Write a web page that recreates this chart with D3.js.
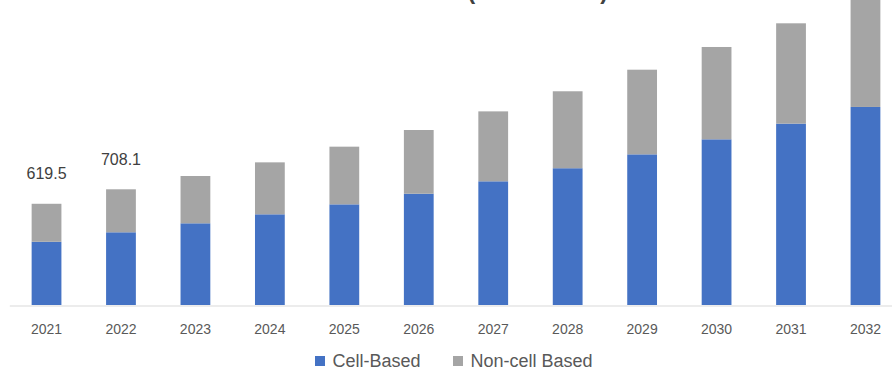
<!DOCTYPE html>
<html>
<head>
<meta charset="utf-8">
<script src="https://cdn.jsdelivr.net/npm/d3@7"></script>
<style>
  html, body { margin: 0; padding: 0; background: #fff; }
  svg { display: block; font-family: "Liberation Sans", Arial, sans-serif; }
</style>
</head>
<body>
<svg id="chart" width="892" height="368"></svg>
<script>
// Market size by year, split into cell-based and non-cell based segments
const years = ["2021", "2022", "2023", "2024", "2025", "2026", "2027", "2028", "2029", "2030", "2031", "2032"];
const cellBased = [387, 445, 500, 555, 616, 681, 757, 837, 922, 1014, 1110, 1212];
const nonCellBased = [232.5, 263.1, 289.5, 318, 353, 390, 428, 471, 518, 565, 614, 671];
const seriesNames = ["Cell-Based", "Non-cell Based"];
const seriesColors = ["#4472C4", "#A5A5A5"];
const labelledYears = ["2021", "2022"];
const titleText = "Cell-Based Meat Market (USD Billion)";

const svg = d3.select("#chart");
const baseY = 305;

const rows = years.map((yr, i) => ({ year: yr, cell: cellBased[i], noncell: nonCellBased[i] }));
const stack = d3.stack().keys(["cell", "noncell"]);
const layers = stack(rows);

const x = d3.scaleBand()
  .domain(years)
  .range([9.3, 902.7])
  .paddingInner(0.6)
  .paddingOuter(0.3);

const y = d3.scaleLinear()
  .domain([0, 1800])
  .range([baseY, baseY - 1800 / 6.12]);

// title (sits mostly above the visible area)
svg.append("text")
  .attr("x", 608)
  .attr("y", -1.3)
  .attr("text-anchor", "end")
  .attr("font-size", 23)
  .attr("font-weight", "bold")
  .attr("fill", "#404040")
  .text(titleText);

// stacked bars
svg.append("g")
  .selectAll("g")
  .data(layers)
  .join("g")
  .attr("fill", (d, i) => seriesColors[i])
  .selectAll("rect")
  .data(d => d)
  .join("rect")
  .attr("x", d => x(d.data.year))
  .attr("width", x.bandwidth())
  .attr("y", d => y(d[1]))
  .attr("height", d => y(d[0]) - y(d[1]));

// category axis
const axis = svg.append("g")
  .attr("transform", `translate(0,${baseY + 0.5})`)
  .call(d3.axisBottom(x).tickSize(0).tickSizeOuter(0));
axis.select(".domain").attr("stroke", "#D9D9D9").attr("stroke-width", 1);
axis.selectAll("text")
  .attr("y", 28)
  .attr("dy", 0)
  .attr("font-size", 14)
  .attr("font-family", "Liberation Sans, Arial, sans-serif")
  .attr("fill", "#595959");

// total value labels
const totals = rows.map(r => ({ year: r.year, total: r.cell + r.noncell }));
svg.append("g")
  .selectAll("text")
  .data(totals.filter(d => labelledYears.includes(d.year)))
  .join("text")
  .attr("x", d => x(d.year) + x.bandwidth() / 2)
  .attr("y", d => y(d.total) - 24.5)
  .attr("text-anchor", "middle")
  .attr("font-size", 16)
  .attr("fill", "#404040")
  .text(d => d3.format(".1f")(d.total));

// legend
const legendX = [315, 453];
const legend = svg.append("g");
seriesNames.forEach((name, i) => {
  legend.append("rect")
    .attr("x", legendX[i])
    .attr("y", 356)
    .attr("width", 10)
    .attr("height", 10)
    .attr("fill", seriesColors[i]);
  legend.append("text")
    .attr("x", legendX[i] + 17.5)
    .attr("y", 366.5)
    .attr("font-size", 18)
    .attr("fill", "#595959")
    .text(name);
});
</script>
</body>
</html>
